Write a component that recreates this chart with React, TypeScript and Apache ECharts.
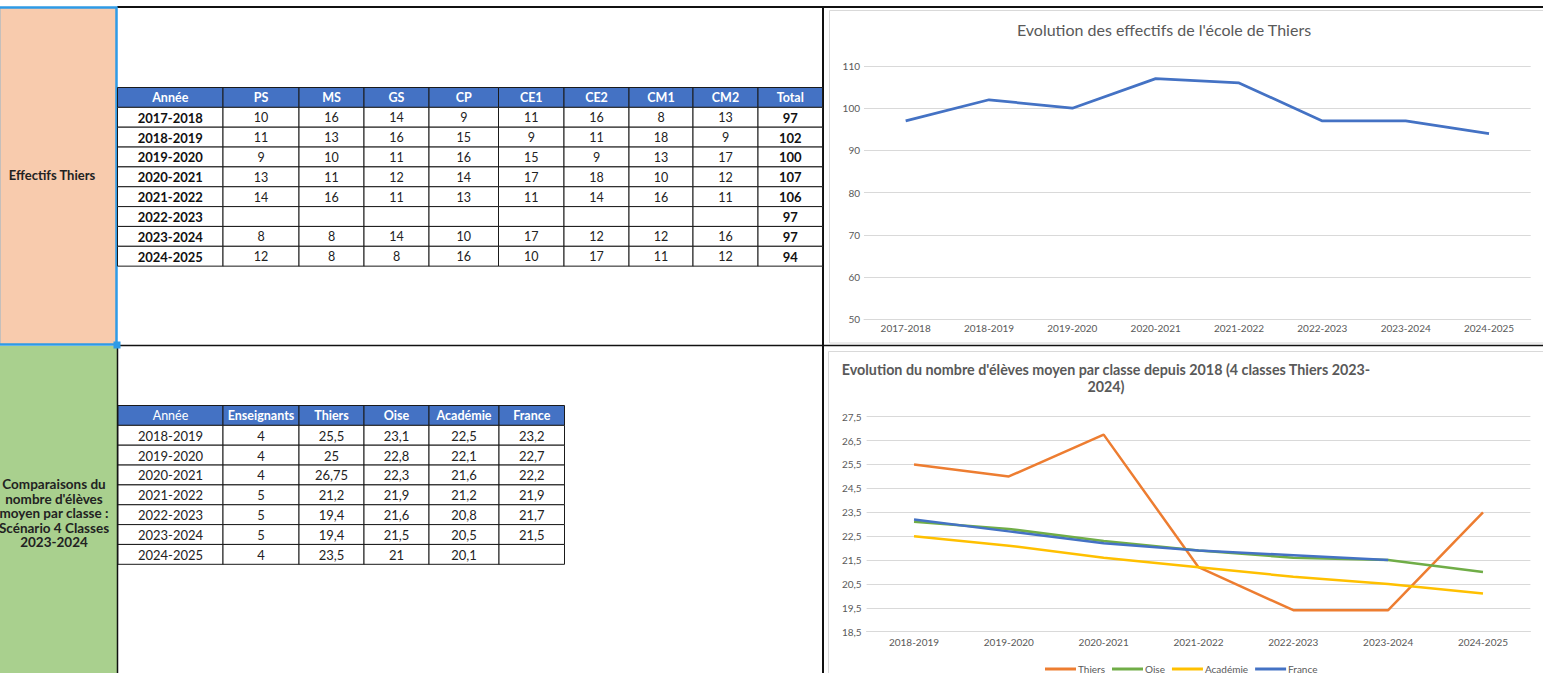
import React, { useEffect, useRef } from "react";
import * as echarts from "echarts";

// ---------- DATA ----------
const topYears = ["2017-2018", "2018-2019", "2019-2020", "2020-2021", "2021-2022", "2022-2023", "2023-2024", "2024-2025"];
const levels = ["PS", "MS", "GS", "CP", "CE1", "CE2", "CM1", "CM2"];
const effPS = [10, 11, 9, 13, 14, null, 8, 12];
const effMS = [16, 13, 10, 11, 16, null, 8, 8];
const effGS = [14, 16, 11, 12, 11, null, 14, 8];
const effCP = [9, 15, 16, 14, 13, null, 10, 16];
const effCE1 = [11, 9, 15, 17, 11, null, 17, 10];
const effCE2 = [16, 11, 9, 18, 14, null, 12, 17];
const effCM1 = [8, 18, 13, 10, 16, null, 12, 11];
const effCM2 = [13, 9, 17, 12, 11, null, 16, 12];
const totals = [97, 102, 100, 107, 106, 97, 97, 94];

const botYears = ["2018-2019", "2019-2020", "2020-2021", "2021-2022", "2022-2023", "2023-2024", "2024-2025"];
const botHeaders = ["Année", "Enseignants", "Thiers", "Oise", "Académie", "France"];
const enseignants = [4, 4, 4, 5, 5, 5, 4];
const thiers = [25.5, 25, 26.75, 21.2, 19.4, 19.4, 23.5];
const oise = [23.1, 22.8, 22.3, 21.9, 21.6, 21.5, 21];
const academie = [22.5, 22.1, 21.6, 21.2, 20.8, 20.5, 20.1];
const france = [23.2, 22.7, 22.2, 21.9, 21.7, 21.5, null];

const topTitle = "Evolution des effectifs de l'école de Thiers";
const botTitle = "Evolution du nombre d'élèves moyen par classe depuis 2018 (4 classes Thiers 2023-\n2024)";
const leftTop = "Effectifs Thiers";
const leftBottom = "Comparaisons du\nnombre d'élèves\nmoyen par classe :\nScénario 4 Classes\n2023-2024";

// ---------- STYLE ----------
const FONT = 'Lato, "Noto Sans", sans-serif';
const BLUE = "#4472C4";
const GRAY = "#595959";
const GRID = "#D9D9D9";

const fmt = (v: number | null) => (v === null || v === undefined ? "" : String(v).replace(".", ","));

function buildGraphic() {
  const els: any[] = [];
  // left colored cells
  els.push({ type: "rect", shape: { x: 0, y: 8, width: 117, height: 337 }, style: { fill: "#F8CBAD" } });
  els.push({ type: "rect", shape: { x: 0, y: 346, width: 117, height: 330 }, style: { fill: "#A9D08E" } });
  els.push({
    type: "text", x: 52, y: 175,
    style: { text: leftTop, font: `bold 13px ${FONT}`, fill: "#222", align: "center", verticalAlign: "middle" },
  });
  els.push({
    type: "text", x: 54, y: 513,
    style: { text: leftBottom, font: `bold 13.5px ${FONT}`, fill: "#222", align: "center", verticalAlign: "middle", lineHeight: 14.5 },
  });

  // sheet lines
  const line = (x1: number, y1: number, x2: number, y2: number, w: number, c = "#111") =>
    els.push({ type: "line", shape: { x1, y1, x2, y2 }, style: { stroke: c, lineWidth: w } });
  line(117, 7, 1543, 7, 2);
  line(118, 345.5, 1543, 345.5, 1.5);
  line(823, 6, 823, 673, 2);
  line(117.5, 346, 117.5, 673, 1.5);

  // selection border
  els.push({ type: "rect", shape: { x: -1, y: 7.5, width: 117.5, height: 337 }, style: { fill: "none", stroke: "#2E9BE6", lineWidth: 2.5 } });
  els.push({ type: "rect", shape: { x: 113.5, y: 341.5, width: 7, height: 7 }, style: { fill: "#2E9BE6" } });

  // chart frames
  els.push({ type: "rect", shape: { x: 829.5, y: 10.5, width: 720, height: 332.5 }, style: { fill: "none", stroke: GRID, lineWidth: 1 } });
  els.push({ type: "rect", shape: { x: 828.5, y: 351.5, width: 720, height: 400 }, style: { fill: "none", stroke: GRID, lineWidth: 1 } });

  // chart titles
  els.push({ type: "text", x: 1164, y: 29, style: { text: topTitle, font: `16px ${FONT}`, fill: GRAY, align: "center", verticalAlign: "middle" } });
  els.push({ type: "text", x: 1106, y: 378, style: { text: botTitle, font: `bold 14.3px ${FONT}`, fill: GRAY, align: "center", verticalAlign: "middle", lineHeight: 17 } });

  // ---- top table ----
  const tCols = [117.5, 223, 299, 364, 429, 498.5, 564, 629, 693, 758, 822.5];
  const tTop = 87.5;
  const rh = 19.85;
  const effCols = [effPS, effMS, effGS, effCP, effCE1, effCE2, effCM1, effCM2];
  const topHeaders = ["Année", ...levels, "Total"];
  const cell = (x0: number, x1: number, y0: number, h: number, fill: string, text: string, font: string, color: string) => {
    els.push({ type: "rect", shape: { x: x0, y: y0, width: x1 - x0, height: h }, style: { fill, stroke: "#1a1a1a", lineWidth: 1 } });
    if (text !== "")
      els.push({ type: "text", x: (x0 + x1) / 2, y: y0 + h / 2 + 0.5, style: { text, font, fill: color, align: "center", verticalAlign: "middle" } });
  };
  topHeaders.forEach((h, i) => cell(tCols[i], tCols[i + 1], tTop, rh, BLUE, h, `bold 12.5px ${FONT}`, "#fff"));
  topYears.forEach((yr, r) => {
    const y0 = tTop + rh * (r + 1);
    cell(tCols[0], tCols[1], y0, rh, "#fff", yr, `bold 13px ${FONT}`, "#111");
    effCols.forEach((col, c) => cell(tCols[c + 1], tCols[c + 2], y0, rh, "#fff", fmt(col[r]), `12.5px ${FONT}`, "#222"));
    cell(tCols[9], tCols[10], y0, rh, "#fff", fmt(totals[r]), `bold 13px ${FONT}`, "#111");
  });

  // ---- bottom table ----
  const bCols = [118, 223, 299, 364, 429, 499, 564.5];
  const bTop = 405.5;
  const bCols2 = [enseignants, thiers, oise, academie, france];
  botHeaders.forEach((h, i) =>
    cell(bCols[i], bCols[i + 1], bTop, rh, BLUE, h, `${i === 0 ? "" : "bold "}12.5px ${FONT}`, "#fff")
  );
  botYears.forEach((yr, r) => {
    const y0 = bTop + rh * (r + 1);
    cell(bCols[0], bCols[1], y0, rh, "#fff", yr, `13px ${FONT}`, "#222");
    bCols2.forEach((col, c) => cell(bCols[c + 1], bCols[c + 2], y0, rh, "#fff", fmt(col[r] as any), `13px ${FONT}`, "#222"));
  });
  return els;
}

export default function App() {
  const ref = useRef<HTMLDivElement>(null);
  useEffect(() => {
    if (!ref.current) return;
    const chart = echarts.init(ref.current, undefined, { renderer: "svg" });
    const axisLabel = { fontFamily: FONT, fontSize: 10, color: GRAY };
    const option: any = {
      animation: false,
      backgroundColor: "#fff",
      textStyle: { fontFamily: FONT },
      graphic: { elements: buildGraphic() },
      grid: [
        { left: 864, top: 66, width: 666.7, height: 253.3, containLabel: false },
        { left: 866.6, top: 416.7, width: 663.8, height: 215, containLabel: false },
      ],
      xAxis: [
        {
          gridIndex: 0, type: "category", data: topYears, boundaryGap: true,
          axisLine: { show: true, lineStyle: { color: GRID } }, axisTick: { show: false },
          axisLabel: { ...axisLabel, margin: 4, interval: 0 },
        },
        {
          gridIndex: 1, type: "category", data: botYears, boundaryGap: true,
          axisLine: { show: true, lineStyle: { color: GRID } }, axisTick: { show: false },
          axisLabel: { ...axisLabel, margin: 5, interval: 0 },
        },
      ],
      yAxis: [
        {
          gridIndex: 0, type: "value", min: 50, max: 110, interval: 10,
          axisLine: { show: false }, axisTick: { show: false },
          axisLabel: { ...axisLabel, margin: 4 },
          splitLine: { lineStyle: { color: GRID, width: 1 } },
        },
        {
          gridIndex: 1, type: "value", min: 18.5, max: 27.5, interval: 1,
          axisLine: { show: false }, axisTick: { show: false },
          axisLabel: { ...axisLabel, margin: 5, formatter: (v: number) => fmt(v) },
          splitLine: { lineStyle: { color: GRID, width: 1 } },
        },
      ],
      legend: {
        data: ["Thiers", "Oise", "Académie", "France"],
        left: 1045, top: 664, padding: 0, itemGap: 7, itemWidth: 31, itemHeight: 3, icon: "rect",
        textStyle: { fontFamily: FONT, fontSize: 10, color: GRAY, padding: [0, 0, 0, -3] },
      },
      series: [
        {
          name: "Total", type: "line", xAxisIndex: 0, yAxisIndex: 0, data: totals,
          symbol: "none", lineStyle: { color: BLUE, width: 2.75 }, itemStyle: { color: BLUE },
        },
        {
          name: "Thiers", type: "line", xAxisIndex: 1, yAxisIndex: 1, data: thiers,
          symbol: "none", lineStyle: { color: "#ED7D31", width: 2.5 }, itemStyle: { color: "#ED7D31" },
        },
        {
          name: "Oise", type: "line", xAxisIndex: 1, yAxisIndex: 1, data: oise,
          symbol: "none", lineStyle: { color: "#70AD47", width: 2.5 }, itemStyle: { color: "#70AD47" },
        },
        {
          name: "Académie", type: "line", xAxisIndex: 1, yAxisIndex: 1, data: academie,
          symbol: "none", lineStyle: { color: "#FFC000", width: 2.5 }, itemStyle: { color: "#FFC000" },
        },
        {
          name: "France", type: "line", xAxisIndex: 1, yAxisIndex: 1, data: france,
          symbol: "none", lineStyle: { color: BLUE, width: 2.5 }, itemStyle: { color: BLUE },
        },
      ],
    };
    chart.setOption(option);
    return () => chart.dispose();
  }, []);
  return <div ref={ref} style={{ position: "fixed", left: 0, top: 0, width: 1543, height: 673 }} />;
}
